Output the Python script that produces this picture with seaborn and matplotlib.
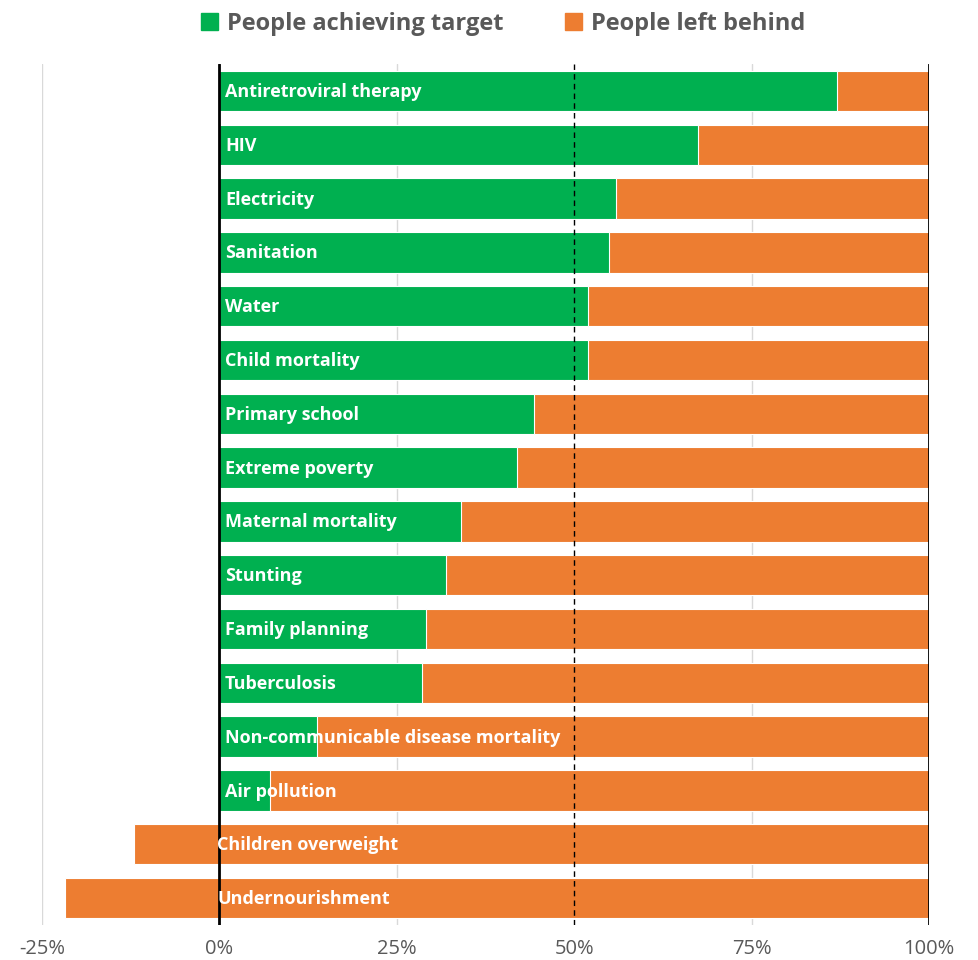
import numpy as np
import pandas as pd
import seaborn as sns
from matplotlib import pyplot as plt
from matplotlib.patches import Patch

CATEGORIES = ["Antiretroviral therapy", "HIV", "Electricity", "Sanitation", "Water",
              "Child mortality", "Primary school", "Extreme poverty", "Maternal mortality",
              "Stunting", "Family planning", "Tuberculosis",
              "Non-communicable disease mortality", "Air pollution",
              "Children overweight", "Undernourishment"]
ACHIEVING = [87.0, 67.4, 55.9, 54.9, 52.0, 51.9, 44.3, 42.0, 34.1, 32.0, 29.1, 28.6,
             13.8, 7.1, -12.1, -21.7]
TOTAL = [100] * len(CATEGORIES)
TICKS = [-25, 0, 25, 50, 75, 100]
TICK_LABELS = ["-25%", "0%", "25%", "50%", "75%", "100%"]

GREEN = "#00B050"
ORANGE = "#ED7D31"

sns.set_style("white")
plt.rcParams['font.family'] = ['Open Sans', 'DejaVu Sans']

df = pd.DataFrame({"cat": CATEGORIES, "achieving": ACHIEVING, "total": TOTAL})

fig = plt.figure(figsize=(9.79, 9.6), dpi=100)
ax = fig.add_axes([42 / 979, 1 - 925 / 960, (929 - 42) / 979, (925 - 64) / 960])

# left-behind share: whole bar up to 100%
sns.barplot(data=df, x="total", y="cat", color=ORANGE, orient="h", width=0.75,
            edgecolor="white", linewidth=0.8, saturation=1, ax=ax, zorder=2)
# achieving share on top; negatives are still "left behind"
cols = [GREEN if v > 0 else ORANGE for v in ACHIEVING]
sns.barplot(data=df, x="achieving", y="cat", hue="cat", palette=cols, legend=False,
            orient="h", width=0.75, edgecolor="white", linewidth=0.8, saturation=1,
            ax=ax, zorder=3)

for i, name in enumerate(CATEGORIES):
    x0 = 0.8 if ACHIEVING[i] > 0 else -0.3
    ax.text(x0, i + 0.02, name, color="white", fontsize=13, fontweight="bold",
            va="center", ha="left", zorder=6)

ax.set_xlim(-25, 100)
ax.set_ylim(15.5, -0.5)
ax.set_xticks(TICKS)
ax.set_xticklabels(TICK_LABELS, fontsize=14.5, color="#595959")
ax.tick_params(axis="x", length=0, pad=10)
ax.set_yticks([])
ax.set_xlabel("")
ax.set_ylabel("")
for s in ax.spines.values():
    s.set_visible(False)

for x in [-25, 25, 75]:
    ax.axvline(x, color="#D9D9D9", lw=1, zorder=1)
ax.axvline(0, color="black", lw=2, zorder=5)
ax.axvline(100, color="black", lw=2, zorder=5)
ax.axvline(50, color="black", lw=1, ls=(0, (4, 3)), zorder=5)

handles = [Patch(color=GREEN, label="People achieving target"),
           Patch(color=ORANGE, label="People left behind")]
leg = fig.legend(handles=handles, loc="upper center", bbox_to_anchor=(0.514, 1.01),
                 ncol=2, frameon=False, handlelength=0.7, handleheight=0.7,
                 columnspacing=2.6, handletextpad=0.4,
                 prop={"size": 17, "weight": "bold"})
for t in leg.get_texts():
    t.set_color("#595959")

plt.savefig("out.png", dpi=100)
